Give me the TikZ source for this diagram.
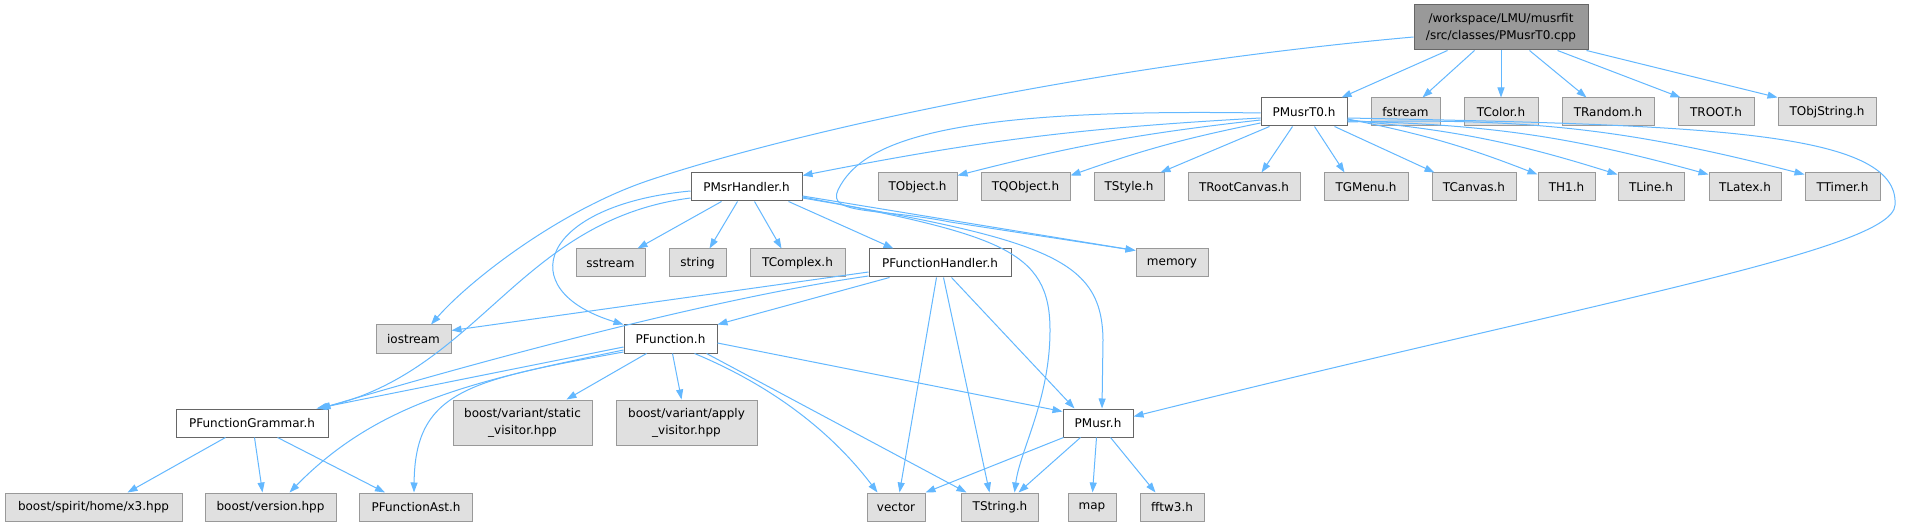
\documentclass[tikz,border=0pt]{standalone}
\usepackage{fontspec}
\setmainfont{DejaVu Sans}
\usetikzlibrary{arrows.meta}
\definecolor{edgec}{HTML}{63B8FF}
\definecolor{extfill}{HTML}{E0E0E0}
\definecolor{extdraw}{HTML}{999999}
\definecolor{docdraw}{HTML}{666666}
\definecolor{rootfill}{HTML}{999999}
\begin{document}
\begin{tikzpicture}[x=1pt,y=-1pt,
  box/.style={rectangle, minimum height=28pt, inner xsep=1pt, inner ysep=0pt, line width=1pt, font=\fontsize{12}{17}\selectfont, text=black},
  extnode/.style={box, fill=extfill, draw=extdraw},
  docnode/.style={box, fill=white, draw=docdraw},
  rootnode/.style={box, fill=rootfill, draw=docdraw, minimum height=45pt, align=center},
  ext2/.style={extnode, minimum height=45pt, align=center},
  dep/.style={draw=edgec, line width=1pt, -{Triangle[length=10pt,width=7pt]}}]
\useasboundingbox (0,0) rectangle (1905,526);
\fill[white] (0,0) rectangle (1905,526);
% row 0
\node[rootnode, minimum width=174pt] (root) at (1501,27.5) {/workspace/LMU/musrfit\\/src/classes/PMusrT0.cpp};
% row 1
\node[docnode, minimum width=86pt] (PMusrT0) at (1304,112) {PMusrT0.h};
\node[extnode, minimum width=69pt] (fstream) at (1405.5,112) {fstream};
\node[extnode, minimum width=74pt] (TColor) at (1501,112) {TColor.h};
\node[extnode, minimum width=92pt] (TRandom) at (1608,112) {TRandom.h};
\node[extnode, minimum width=76pt] (TROOT) at (1716,112) {TROOT.h};
\node[extnode, minimum width=98pt] (TObjString) at (1827,112) {TObjString.h};
% row 2
\node[docnode, minimum width=111pt] (PMsrHandler) at (746.5,187) {PMsrHandler.h};
\node[extnode, minimum width=79pt] (TObject) at (917.5,187) {TObject.h};
\node[extnode, minimum width=89pt] (TQObject) at (1025.5,187) {TQObject.h};
\node[extnode, minimum width=70pt] (TStyle) at (1129,187) {TStyle.h};
\node[extnode, minimum width=112pt] (TRootCanvas) at (1244,187) {TRootCanvas.h};
\node[extnode, minimum width=84pt] (TGMenu) at (1366,187) {TGMenu.h};
\node[extnode, minimum width=84pt] (TCanvas) at (1474,187) {TCanvas.h};
\node[extnode, minimum width=57pt] (TH1) at (1566.5,187) {TH1.h};
\node[extnode, minimum width=66pt] (TLine) at (1651,187) {TLine.h};
\node[extnode, minimum width=72pt] (TLatex) at (1745,187) {TLatex.h};
\node[extnode, minimum width=75pt] (TTimer) at (1842.5,187) {TTimer.h};
% row 3
\node[extnode, minimum width=69pt] (sstream) at (610.5,263) {sstream};
\node[extnode, minimum width=57pt] (string) at (697.5,263) {string};
\node[extnode, minimum width=95pt] (TComplex) at (797.5,263) {TComplex.h};
\node[docnode, minimum width=142pt] (PFunctionHandler) at (940,263) {PFunctionHandler.h};
\node[extnode, minimum width=72pt] (memory) at (1172,263) {memory};
% row 4
\node[extnode, minimum width=75pt] (iostream) at (413.5,339) {iostream};
\node[docnode, minimum width=93pt] (PFunction) at (670.5,339) {PFunction.h};
% row 5
\node[docnode, minimum width=152pt] (PFunctionGrammar) at (252,423) {PFunctionGrammar.h};
\node[ext2, minimum width=139pt] (staticv) at (522.5,422.5) {boost/variant/static\\\_visitor.hpp};
\node[ext2, minimum width=141pt] (applyv) at (686.5,422.5) {boost/variant/apply\\\_visitor.hpp};
\node[docnode, minimum width=70pt] (PMusr) at (1098,423) {PMusr.h};
% row 6
\node[extnode, minimum width=177pt] (x3) at (93.5,507) {boost/spirit/home/x3.hpp};
\node[extnode, minimum width=131pt] (version) at (270.5,507) {boost/version.hpp};
\node[extnode, minimum width=113pt] (PFunctionAst) at (416,507) {PFunctionAst.h};
\node[extnode, minimum width=58pt] (vector) at (896,507) {vector};
\node[extnode, minimum width=77pt] (TString) at (1000,507) {TString.h};
\node[extnode, minimum width=48pt] (map) at (1092,507) {map};
\node[extnode, minimum width=64pt] (fftw3) at (1172,507) {fftw3.h};
% root edges
\draw[dep] ([xshift=34pt]root.south west) -- ([xshift=81pt]PMusrT0.north west);
\draw[dep] ([xshift=61pt]root.south west) -- ([xshift=52pt]fstream.north west);
\draw[dep] (root.south) -- (TColor.north);
\draw[dep] ([xshift=116pt]root.south west) -- ([xshift=25pt]TRandom.north west);
\draw[dep] ([xshift=144pt]root.south west) -- ([xshift=3pt]TROOT.north west);
\draw[dep] ([xshift=-2pt]root.south east) -- (TObjString.north west);
\draw[dep] ([yshift=-9.5pt]root.west) .. controls (1100,65) and (800,130) .. (650,180) .. controls (560,210) and (470,280) .. ([xshift=17.5pt]iostream.north);
% PMusrT0 edges
\draw[dep] ([yshift=-6pt]PMusrT0.west) to[bend right=4] ([yshift=-3pt]PMsrHandler.north east);
\draw[dep] ([yshift=-8pt]PMusrT0.west) to[bend right=4] ([yshift=-3pt]TObject.north east);
\draw[dep] ([yshift=-11pt]PMusrT0.west) to[bend right=4] ([yshift=-3pt]TQObject.north east);
\draw[dep] ([xshift=9pt]PMusrT0.south west) -- ([xshift=-4pt]TStyle.north east);
\draw[dep] ([xshift=32pt]PMusrT0.south west) -- ([xshift=74pt]TRootCanvas.north west);
\draw[dep] ([xshift=54pt]PMusrT0.south west) -- ([xshift=21pt]TGMenu.north west);
\draw[dep] ([xshift=74pt]PMusrT0.south west) -- ([xshift=3pt]TCanvas.north west);
\draw[dep] ([yshift=-7pt]PMusrT0.east) to[bend left=5] ([yshift=-2pt]TH1.north west);
\draw[dep] ([yshift=-8pt]PMusrT0.east) to[bend left=6] ([yshift=-2pt]TLine.north west);
\draw[dep] ([yshift=-9pt]PMusrT0.east) to[bend left=7] ([yshift=-2pt]TLatex.north west);
\draw[dep] ([yshift=-10pt]PMusrT0.east) to[bend left=8] ([yshift=-2pt]TTimer.north west);
\draw[dep] ([yshift=-1pt]PMusrT0.west) .. controls (950,108) and (862,140) .. (838,190) .. controls (826,215) and (880,208) .. (950,222) -- ([yshift=-2pt]memory.north west);
\draw[dep] ([yshift=-6pt]PMusrT0.east) .. controls (1700,125) and (1900,130) .. (1895,205) .. controls (1893,250) and (1600,300) .. ([yshift=-8pt]PMusr.north east);
% PMsrHandler edges
\draw[dep] ([xshift=31pt]PMsrHandler.south west) -- ([xshift=62pt]sstream.north west);
\draw[dep] ([xshift=47pt]PMsrHandler.south west) -- ([xshift=41pt]string.north west);
\draw[dep] ([xshift=64pt]PMsrHandler.south west) -- ([xshift=32pt]TComplex.north west);
\draw[dep] ([xshift=98pt]PMsrHandler.south west) -- ([xshift=25pt]PFunctionHandler.north west);
\draw[dep] ([yshift=-9pt]PMsrHandler.east) -- ([yshift=-2pt]memory.north west);
\draw[dep] ([yshift=-10pt]PMsrHandler.east) .. controls (1000,235) and (1050,250) .. (1050,330) .. controls (1050,400) and (1020,450) .. ([xshift=53.5pt]TString.north west);
\draw[dep] ([yshift=-11pt]PMsrHandler.east) .. controls (1050,240) and (1102,260) .. (1103,340) -- ([xshift=4pt]PMusr.north);
\draw[dep] ([yshift=-4pt]PMsrHandler.west) .. controls (540,205) and (510,290) .. (PFunction.north west);
\draw[dep] ([yshift=-11pt]PMsrHandler.west) .. controls (520,220) and (480,370) .. ([xshift=-10pt]PFunctionGrammar.north east);
% PFunctionHandler edges
\draw[dep] ([yshift=-9pt]PFunctionHandler.west) -- ([yshift=-6pt]iostream.north east);
\draw[dep] ([yshift=-13pt]PFunctionHandler.west) .. controls (700,300) and (450,370) .. ([xshift=-8pt]PFunctionGrammar.north east);
\draw[dep] ([xshift=21pt]PFunctionHandler.south west) -- (PFunction.north east);
\draw[dep] ([xshift=68pt]PFunctionHandler.south west) -- ([xshift=33pt]vector.north west);
\draw[dep] ([xshift=75pt]PFunctionHandler.south west) -- ([xshift=28.5pt]TString.north west);
\draw[dep] ([xshift=83pt]PFunctionHandler.south west) -- ([xshift=12pt]PMusr.north west);
% PFunction edges
\draw[dep] ([yshift=-8pt]PFunction.west) -- ([xshift=-12pt]PFunctionGrammar.north east);
\draw[dep] ([xshift=23pt]PFunction.south west) -- ([xshift=114pt]staticv.north west);
\draw[dep] ([xshift=49pt]PFunction.south west) -- ([xshift=66pt]applyv.north west);
\draw[dep] ([xshift=71pt]PFunction.south west) .. controls (770,385) and (830,430) .. ([xshift=11pt]vector.north west);
\draw[dep] ([xshift=83pt]PFunction.south west) -- ([xshift=5.5pt]TString.north west);
\draw[dep] ([yshift=-4pt]PFunction.east) -- ([yshift=-3pt]PMusr.north west);
\draw[dep] ([yshift=-11pt]PFunction.west) .. controls (480,380) and (380,400) .. ([xshift=85pt]version.north west);
\draw[dep] ([yshift=-13pt]PFunction.west) .. controls (470,380) and (415,390) .. ([xshift=55pt]PFunctionAst.north west);
% PFunctionGrammar edges
\draw[dep] ([xshift=50pt]PFunctionGrammar.south west) -- ([xshift=123pt]x3.north west);
\draw[dep] ([xshift=79pt]PFunctionGrammar.south west) -- ([xshift=58pt]version.north west);
\draw[dep] ([xshift=102pt]PFunctionGrammar.south west) -- ([xshift=26pt]PFunctionAst.north west);
% PMusr edges
\draw[dep] ([xshift=1pt]PMusr.south west) -- (vector.north east);
\draw[dep] ([xshift=18pt]PMusr.south west) -- ([xshift=57.5pt]TString.north west);
\draw[dep] ([xshift=34pt]PMusr.south west) -- ([xshift=25pt]map.north west);
\draw[dep] ([xshift=48pt]PMusr.south west) -- ([xshift=16pt]fftw3.north west);
\end{tikzpicture}
\end{document}
